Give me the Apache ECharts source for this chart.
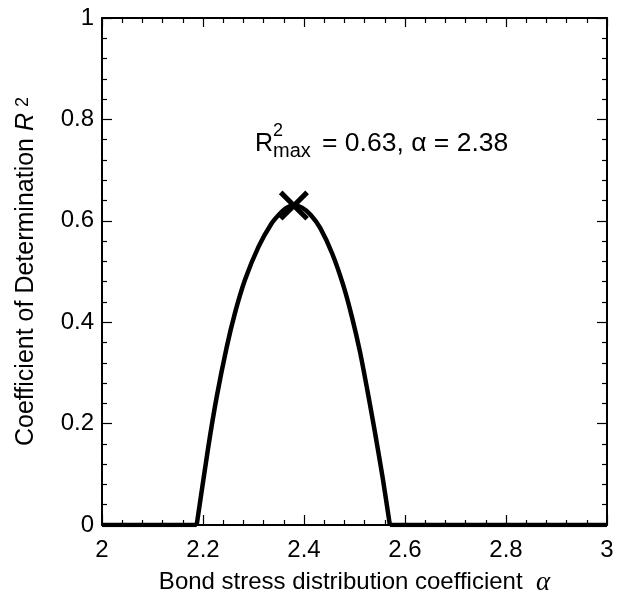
<!DOCTYPE html>
<html>
<head>
<meta charset="utf-8">
<script src="https://cdn.jsdelivr.net/npm/echarts@6/dist/echarts.min.js"></script>
<style>
html,body{margin:0;padding:0;background:#fff;}
#chart{width:617px;height:597px;}
</style>
</head>
<body>
<div id="chart"></div>
<script>
// Data
var flatLeftAlpha  = [2.0, 2.1875];
var flatLeftR2     = [0, 0];
var humpAlpha = [2.1875, 2.2105, 2.227, 2.247, 2.263, 2.283, 2.3096, 2.336, 2.352, 2.366, 2.38, 2.396, 2.413, 2.432, 2.456, 2.478, 2.495, 2.511, 2.526, 2.541, 2.556, 2.570];
var humpR2    = [0,      0.154,  0.252, 0.351, 0.417, 0.483, 0.548,  0.595, 0.614, 0.626, 0.63, 0.626, 0.612, 0.586, 0.535, 0.472, 0.410, 0.341, 0.263, 0.180, 0.092, 0];
var flatRightAlpha = [2.570, 3.0];
var flatRightR2    = [0, 0];
var peakPoint = [2.38, 0.63];
var xTicks = {min: 2, max: 3, interval: 0.2};
var yTicks = {min: 0, max: 1, interval: 0.2};
var annotationParts = ['R', '2', 'max', '= 0.63, \u03b1 = 2.38'];

var FONT = 'Liberation Sans, Arial, sans-serif';
function pairs(xs, ys) { return xs.map(function (a, i) { return [a, ys[i]]; }); }

function axisBase(extra) {
  var o = {
    type: 'value',
    splitLine: {show: false},
    axisLine: {show: true, onZero: false, lineStyle: {color: '#000', width: 2}},
    axisTick: {show: true, inside: true, length: 10, lineStyle: {color: '#000', width: 1.2}},
    minorTick: {show: true, splitNumber: 5, length: 5, lineStyle: {color: '#000', width: 1.2}},
    axisLabel: {show: true, color: '#000', fontFamily: FONT, fontSize: 24, margin: 8}
  };
  for (var k in extra) o[k] = extra[k];
  return o;
}

var chart = echarts.init(document.getElementById('chart'), null, {renderer: 'canvas'});
var X_SYMBOL = 'path://M0,12L12,0L50,38L88,0L100,12L62,50L100,88L88,100L50,62L12,100L0,88L38,50Z';
var lineStyle = {color: '#000', width: 4.5, join: 'round', cap: 'butt'};

chart.setOption({
  animation: false,
  backgroundColor: '#fff',
  grid: {left: 102, right: 10, top: 18, bottom: 72, containLabel: false, outerBoundsMode: 'none'},
  xAxis: [
    axisBase({
      min: xTicks.min, max: xTicks.max, interval: xTicks.interval, position: 'bottom',
      name: 'Bond stress distribution coefficient  {a|\u03b1}',
      nameLocation: 'middle', nameGap: 44,
      nameTextStyle: {color: '#000', fontFamily: FONT, fontSize: 24,
        rich: {a: {fontFamily: 'Liberation Serif, DejaVu Serif, serif', fontStyle: 'italic', fontSize: 27, color: '#000'}}},
      axisLabel: {show: true, color: '#000', fontFamily: FONT, fontSize: 24, margin: 13}
    }),
    axisBase({
      min: xTicks.min, max: xTicks.max, interval: xTicks.interval, position: 'top',
      axisLabel: {show: false},
      axisTick: {show: true, inside: true, length: 9, lineStyle: {color: '#000', width: 1.2}}
    })
  ],
  yAxis: [
    axisBase({
      min: yTicks.min, max: yTicks.max, interval: yTicks.interval, position: 'left',
      name: '{n|Coefficient of Determination }{i|R}{s|2}',
      nameLocation: 'middle', nameGap: 46, nameRotate: 90,
      nameTextStyle: {color: '#000', fontFamily: FONT, fontSize: 25,
        rich: {
          n: {fontFamily: FONT, fontSize: 25, lineHeight: 25, verticalAlign: 'bottom', color: '#000'},
          i: {fontFamily: FONT, fontStyle: 'italic', fontSize: 25, lineHeight: 25, verticalAlign: 'bottom', color: '#000', padding: [0, 4, 0, 0]},
          s: {fontFamily: FONT, fontSize: 18, lineHeight: 18, verticalAlign: 'top', padding: [0, 0, 18, 2], color: '#000'}
        }}
    }),
    axisBase({
      min: yTicks.min, max: yTicks.max, interval: yTicks.interval, position: 'right',
      axisLabel: {show: false}
    })
  ],
  series: [
    {type: 'line', data: pairs(flatLeftAlpha, flatLeftR2), showSymbol: false, symbol: 'none', lineStyle: lineStyle, z: 3},
    {type: 'line', data: pairs(humpAlpha, humpR2), showSymbol: false, symbol: 'none', smooth: 0.2, lineStyle: lineStyle, z: 3},
    {type: 'line', data: pairs(flatRightAlpha, flatRightR2), showSymbol: false, symbol: 'none', lineStyle: lineStyle, z: 3},
    {
      type: 'scatter', data: [peakPoint], symbol: X_SYMBOL, symbolSize: 30,
      itemStyle: {color: '#000', opacity: 1}, z: 4
    }
  ],
  graphic: [
    {type: 'text', x: 255, y: 144, style: {text: annotationParts[0], fontFamily: FONT, fontSize: 25, fill: '#000', align: 'left', verticalAlign: 'middle'}},
    {type: 'text', x: 273, y: 131, style: {text: annotationParts[1], fontFamily: FONT, fontSize: 18, fill: '#000', align: 'left', verticalAlign: 'middle'}},
    {type: 'text', x: 273, y: 151, style: {text: annotationParts[2], fontFamily: FONT, fontSize: 20, fill: '#000', align: 'left', verticalAlign: 'middle'}},
    {type: 'text', x: 322, y: 144, scaleX: 1.06, style: {text: annotationParts[3], fontFamily: FONT, fontSize: 25, fill: '#000', align: 'left', verticalAlign: 'middle'}}
  ]
});
</script>
</body>
</html>
